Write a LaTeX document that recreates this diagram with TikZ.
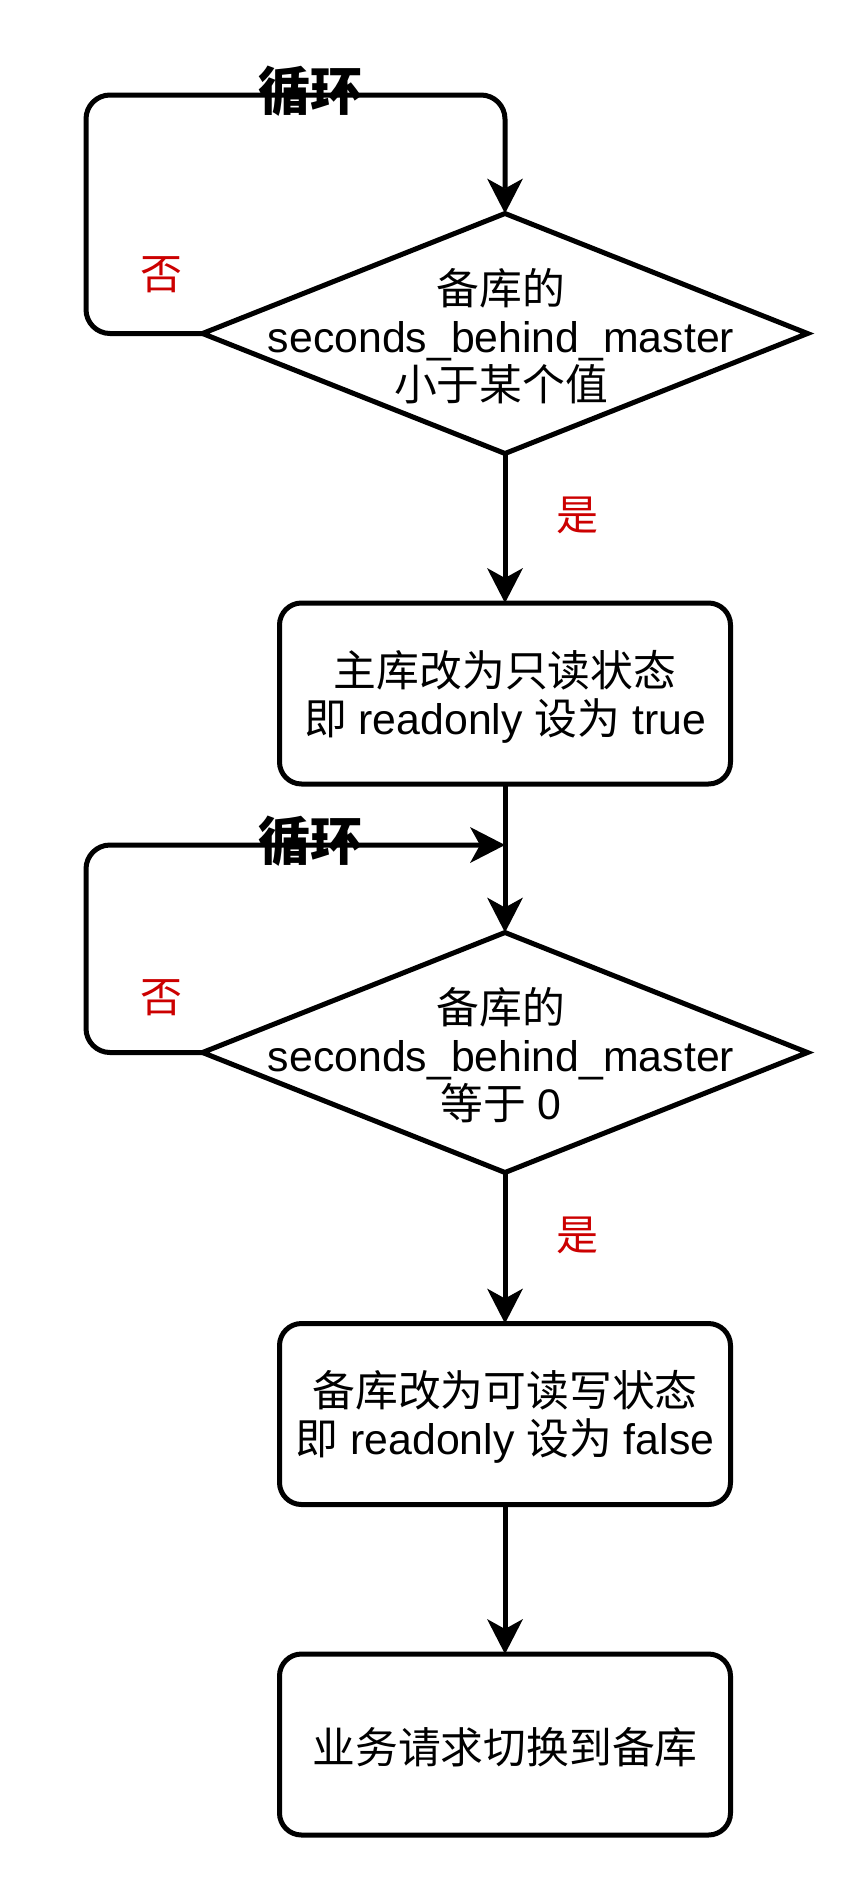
\documentclass[tikz,border=0pt]{standalone}
\usepackage{fontspec}
\setmainfont{Liberation Sans}
\newfontfamily\cjk{Noto Sans CJK SC}
\usetikzlibrary{shapes.geometric,arrows.meta}
\definecolor{labred}{RGB}{204,0,0}
\begin{document}
\begin{tikzpicture}[x=1pt,y=-1pt,
  line width=5pt,
  box/.style={draw, rounded corners=22pt, minimum width=451pt, minimum height=181pt, inner sep=0pt, outer sep=0pt},
  decision/.style={draw, diamond, minimum width=605pt, minimum height=240pt, inner sep=0pt, outer sep=0pt},
  txt/.style={align=center, font=\fontsize{42.8}{48}\selectfont, inner sep=0pt},
  lab/.style={font=\cjk\fontsize{42}{48}\selectfont, text=labred, inner sep=0pt},
  looplab/.style={font=\cjk\bfseries\fontsize{52}{56}\selectfont, inner sep=0pt},
  flow/.style={-{Stealth[length=35pt,width=36pt,inset=10pt,line width=0pt]}},
  ]
\useasboundingbox (0,0) rectangle (867,1896);
\fill[white] (0,0) rectangle (867,1896);

\node[decision] (d1) at (505,333.5) {};
\node[txt] (d1t) at (501,336) {{\cjk 备库的}\\seconds\_behind\_master\\{\cjk 小于某个值}};
\node[box] (b1) at (505,693.5) {};
\node[txt] (b1t) at (505,697) {{\cjk 主库改为只读状态}\\{\cjk 即} readonly {\cjk 设为} true};
\node[decision] (d2) at (505,1052.5) {};
\node[txt] (d2t) at (501,1055) {{\cjk 备库的}\\seconds\_behind\_master\\{\cjk 等于} 0};
\node[box] (b2) at (505,1414) {};
\node[txt] (b2t) at (505,1417) {{\cjk 备库改为可读写状态}\\{\cjk 即} readonly {\cjk 设为} false};
\node[box] (b3) at (505,1744.5) {};
\node[txt] (b3t) at (505,1747) {\cjk 业务请求切换到备库};

\coordinate (k1) at (86,95);
\coordinate (k2) at (86,845);
\coordinate (m2) at (505,845);

\draw[flow] (d1.south) -- (b1.north);
\draw[flow] (b1.south) -- (d2.north);
\draw[flow] (d2.south) -- (b2.north);
\draw[flow] (b2.south) -- (b3.north);
\draw[flow, rounded corners=24pt] (d1.west) -| (k1) -| (d1.north);
\draw[flow, rounded corners=24pt] (d2.west) -| (k2) -- (m2);

\node[looplab] (c1) at (310,91) {循环};
\node[lab] (n1) at (161,275) {否};
\node[lab] (y1) at (577,515) {是};
\node[looplab] (c2) at (310,841) {循环};
\node[lab] (n2) at (161,998) {否};
\node[lab] (y2) at (577,1235) {是};
\end{tikzpicture}
\end{document}
